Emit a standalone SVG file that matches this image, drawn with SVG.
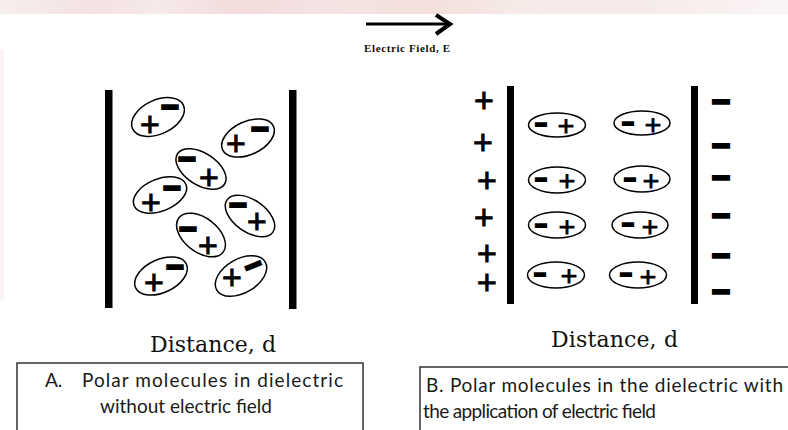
<svg xmlns="http://www.w3.org/2000/svg" width="788" height="430" viewBox="0 0 788 430">
  <defs>
    <linearGradient id="band" x1="0" y1="0" x2="1" y2="0">
      <stop offset="0" stop-color="#f6eeee"/>
      <stop offset="0.12" stop-color="#f4e2e2"/>
      <stop offset="0.2" stop-color="#f7eaea"/>
      <stop offset="0.3" stop-color="#f2dcdc"/>
      <stop offset="0.42" stop-color="#f5e3e3"/>
      <stop offset="0.55" stop-color="#f3e0dc"/>
      <stop offset="0.68" stop-color="#f7ecea"/>
      <stop offset="0.8" stop-color="#f6eaea"/>
      <stop offset="1" stop-color="#fbf5f5"/>
    </linearGradient>
    <style>
      .plate { fill: #000; }
      .mol { fill: none; stroke: #000; stroke-width: 1.5; }
      .p { font-family: "DejaVu Sans", sans-serif; font-size: 26px; text-anchor: middle; fill: #000; stroke: #000; stroke-width: 1.2; }
      .ps { font-size: 22px; stroke-width: 1; }
      .m { font-family: "DejaVu Sans", sans-serif; font-size: 22px; text-anchor: middle; fill: #000; stroke: #000; stroke-width: 3.8; }
      .ms { font-size: 14px; stroke-width: 3.5; }
      .ml { font-size: 23px; stroke-width: 3.8; }
      .axis { font-family: "DejaVu Serif", "Liberation Serif", serif; font-size: 22px; fill: #111; }
      .cap { font-family: Lato, "Open Sans", "Liberation Sans", sans-serif; font-size: 19px; fill: #1a1a1a; }
      .box { fill: none; stroke: #333; stroke-width: 1.5; }
      .field { font-family: "Liberation Serif", serif; font-size: 11px; font-weight: bold; fill: #111; }
    </style>
  </defs>

  <rect width="788" height="430" fill="#fff"/>
  <!-- faint banner strip along the top edge -->
  <rect x="0" y="0" width="788" height="14" fill="url(#band)"/>
  <rect x="0" y="50" width="4" height="250" fill="#fbf2f2"/>

  <!-- field direction arrow -->
  <g id="field-arrow">
    <line x1="366" y1="24" x2="449" y2="24" stroke="#000" stroke-width="3"/>
    <polyline points="436,15 450,24 436,34" fill="none" stroke="#000" stroke-width="4" stroke-linejoin="miter"/>
    <text class="field" x="364" y="52" textLength="86">Electric Field, E</text>
  </g>

  <!-- Panel A: randomly oriented dipoles -->
  <g id="panel-a">
    <rect class="plate" x="105" y="90" width="7.5" height="218"/>
    <rect class="plate" x="289" y="90" width="7.5" height="219"/>

    <g id="a-mol1">
      <ellipse class="mol" cx="158" cy="117" rx="28" ry="17" transform="rotate(-25 158 117)"/>
      <text class="p" x="150" y="133">+</text>
      <text class="m" x="170" y="113.6">−</text>
    </g>
    <g id="a-mol2">
      <ellipse class="mol" cx="248" cy="138" rx="28" ry="16.5" transform="rotate(-25 248 138)"/>
      <text class="p" x="236" y="152">+</text>
      <text class="m" x="260" y="135.6">−</text>
    </g>
    <g id="a-mol3">
      <ellipse class="mol" cx="201" cy="169" rx="28" ry="16" transform="rotate(33 201 169)"/>
      <text class="m" x="187" y="165.6">−</text>
      <text class="p" x="209" y="186">+</text>
    </g>
    <g id="a-mol4">
      <ellipse class="mol" cx="160" cy="195" rx="28" ry="16" transform="rotate(-22 160 195)"/>
      <text class="p" x="151" y="211">+</text>
      <text class="m" x="172" y="194.6">−</text>
    </g>
    <g id="a-mol5">
      <ellipse class="mol" cx="250" cy="216" rx="28" ry="16" transform="rotate(35 250 216)"/>
      <text class="m" x="238" y="211.6">−</text>
      <text class="p" x="257" y="230">+</text>
    </g>
    <g id="a-mol6">
      <ellipse class="mol" cx="201" cy="235" rx="28" ry="17" transform="rotate(38 201 235)"/>
      <text class="m" x="188" y="235.6">−</text>
      <text class="p" x="208" y="254">+</text>
    </g>
    <g id="a-mol7">
      <ellipse class="mol" cx="161" cy="276" rx="28" ry="16.5" transform="rotate(-25 161 276)"/>
      <text class="p" x="154" y="291">+</text>
      <text class="m" x="175" y="273.6">−</text>
    </g>
    <g id="a-mol8">
      <ellipse class="mol" cx="241" cy="276" rx="28" ry="17" transform="rotate(-30 241 276)"/>
      <text class="p" x="232" y="286">+</text>
      <text class="m" x="253" y="272.6" transform="rotate(-22 253 265)">−</text>
    </g>

    <text class="axis" x="150" y="352" textLength="126">Distance, d</text>
  </g>

  <!-- Panel B: dipoles aligned with the applied field -->
  <g id="panel-b">
    <rect class="plate" x="507" y="86" width="7" height="218"/>
    <rect class="plate" x="691" y="86" width="7" height="218"/>

    <g id="b-plate-charges">
      <text class="p" x="484" y="109">+</text>
      <text class="p" x="483" y="151">+</text>
      <text class="p" x="487" y="189">+</text>
      <text class="p" x="484" y="226">+</text>
      <text class="p" x="487" y="262">+</text>
      <text class="p" x="487" y="291">+</text>
      <text class="m ml" x="721" y="108.5">−</text>
      <text class="m ml" x="721" y="153">−</text>
      <text class="m ml" x="721" y="185">−</text>
      <text class="m ml" x="721" y="223">−</text>
      <text class="m ml" x="721" y="263">−</text>
      <text class="m ml" x="721" y="299">−</text>
    </g>

    <g id="b-mol1">
      <ellipse class="mol" cx="557" cy="125" rx="28.5" ry="12"/>
      <text class="m ms" x="541" y="129">−</text>
      <text class="p ps" x="566" y="132.6">+</text>
    </g>
    <g id="b-mol2">
      <ellipse class="mol" cx="642" cy="123" rx="28" ry="12"/>
      <text class="m ms" x="628" y="128">−</text>
      <text class="p ps" x="653" y="131.6">+</text>
    </g>
    <g id="b-mol3">
      <ellipse class="mol" cx="557" cy="180" rx="28.5" ry="13"/>
      <text class="m ms" x="541" y="184">−</text>
      <text class="p ps" x="567" y="187.6">+</text>
    </g>
    <g id="b-mol4">
      <ellipse class="mol" cx="642" cy="179" rx="28" ry="13"/>
      <text class="m ms" x="630" y="184">−</text>
      <text class="p ps" x="651" y="187.6">+</text>
    </g>
    <g id="b-mol5">
      <ellipse class="mol" cx="557" cy="225" rx="28.5" ry="13"/>
      <text class="m ms" x="541" y="230">−</text>
      <text class="p ps" x="567" y="233.6">+</text>
    </g>
    <g id="b-mol6">
      <ellipse class="mol" cx="640" cy="225" rx="28" ry="13"/>
      <text class="m ms" x="628" y="229">−</text>
      <text class="p ps" x="650" y="233.6">+</text>
    </g>
    <g id="b-mol7">
      <ellipse class="mol" cx="556" cy="275" rx="28.5" ry="13"/>
      <text class="m ms" x="540" y="279">−</text>
      <text class="p ps" x="569" y="282.6">+</text>
    </g>
    <g id="b-mol8">
      <ellipse class="mol" cx="638" cy="275" rx="28.5" ry="13"/>
      <text class="m ms" x="626" y="279">−</text>
      <text class="p ps" x="648" y="283.6">+</text>
    </g>

    <text class="axis" x="551" y="347" textLength="127">Distance, d</text>
  </g>

  <!-- Captions -->
  <g id="caption-a">
    <rect class="box" x="17" y="363" width="346" height="80"/>
    <text class="cap" x="45" y="387">A.</text>
    <text class="cap" x="82" y="387" textLength="261">Polar molecules in dielectric</text>
    <text class="cap" x="100" y="413" textLength="172">without electric field</text>
  </g>
  <g id="caption-b">
    <rect class="box" x="420" y="367" width="380" height="80"/>
    <text class="cap" x="426" y="392" textLength="357">B. Polar molecules in the dielectric with</text>
    <text class="cap" x="423" y="418" textLength="233">the application of electric field</text>
  </g>
</svg>
